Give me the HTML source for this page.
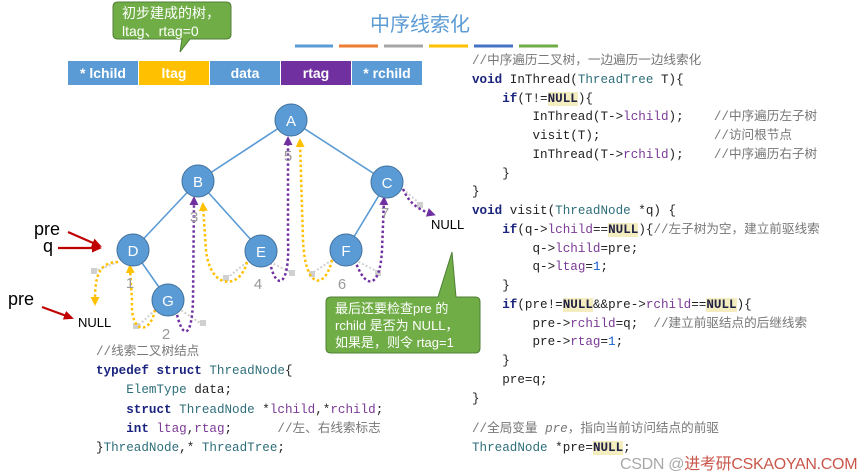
<!DOCTYPE html>
<html><head><meta charset="utf-8"><style>
*{margin:0;padding:0}
body{width:866px;height:474px;background:#fff;position:relative;overflow:hidden;font-family:"Liberation Sans","Noto Sans CJK SC",sans-serif}
.c{position:absolute;font-family:"Liberation Mono","Noto Sans CJK SC",monospace;font-size:12.6px;color:#222;white-space:pre;line-height:18px}
.k{color:#1a237e;font-weight:bold}
.t{color:#2e6e7a}
.p{color:#7b3a96}
.g{color:#777}
.n{color:#1a5fd0}
.h{background:#f3edc0;color:#224;font-weight:bold}
.cell{position:absolute;top:61px;height:24px;width:70px;color:#fff;font-weight:bold;font-size:14px;text-align:center;line-height:24px}
</style></head><body>
<svg width="866" height="474" style="position:absolute;left:0;top:0">
<defs>
<marker id="ay" markerUnits="userSpaceOnUse" markerWidth="9" markerHeight="9" refX="5" refY="4.5" orient="auto"><path d="M0,0 L9,4.5 L0,9z" fill="#ffc000"/></marker>
<marker id="ap" markerUnits="userSpaceOnUse" markerWidth="9" markerHeight="9" refX="5" refY="4.5" orient="auto"><path d="M0,0 L9,4.5 L0,9z" fill="#7030a0"/></marker>
<marker id="ar" markerUnits="userSpaceOnUse" markerWidth="10" markerHeight="9" refX="8" refY="4.5" orient="auto"><path d="M0,0 L10,4.5 L0,9z" fill="#c00000"/></marker>
</defs>
<g fill="none" stroke-width="3">
<line x1="295" y1="46" x2="333" y2="46" stroke="#5b9bd5"/>
<line x1="339" y1="46" x2="378" y2="46" stroke="#ed7d31"/>
<line x1="384" y1="46" x2="423" y2="46" stroke="#a5a5a5"/>
<line x1="429" y1="46" x2="468" y2="46" stroke="#ffc000"/>
<line x1="474" y1="46" x2="513" y2="46" stroke="#4472c4"/>
<line x1="519" y1="46" x2="558" y2="46" stroke="#70ad47"/>
</g>
<path d="M118,2 H226 Q231,2 231,7 V34 Q231,39 226,39 H190 L180,52 L182,39 H118 Q113,39 113,34 V7 Q113,2 118,2z" fill="#70ad47" stroke="#4f7f34"/>
<path d="M331,297 H438 L452,252 L456,297 H475 Q480,297 480,302 V348 Q480,353 475,353 H331 Q326,353 326,348 V302 Q326,297 331,297z" fill="#70ad47" stroke="#4f7f34"/>
<g stroke="#5b9bd5" stroke-width="1.6">
<line x1="291" y1="120" x2="198" y2="181"/><line x1="291" y1="120" x2="387" y2="182"/>
<line x1="198" y1="181" x2="133" y2="250"/><line x1="198" y1="181" x2="261" y2="251"/>
<line x1="387" y1="182" x2="346" y2="250"/><line x1="133" y1="250" x2="168" y2="300"/>
</g>
<g stroke="#d0d0d0" stroke-width="2" stroke-dasharray="2,2" fill="none">
<path d="M118,262 L95,271"/><path d="M155,310 L136,328"/><path d="M178,308 L203,325"/>
<path d="M247,262 L226,279"/><path d="M270,262 L292,273"/><path d="M332,260 L311,274"/><path d="M355,260 L378,272"/><path d="M403,189 L420,204"/>
</g>
<g fill="#d0d0d0"><rect x="91" y="268" width="6" height="6"/><rect x="133" y="323" width="6" height="6"/><rect x="200" y="320" width="6" height="6"/><rect x="223" y="275" width="6" height="6"/><rect x="289" y="270" width="6" height="6"/><rect x="309" y="271" width="6" height="6"/><rect x="375" y="270" width="6" height="6"/><rect x="417" y="202" width="6" height="6"/></g>
<g fill="none" stroke-width="2.5" stroke-dasharray="2.5,2.5">
<path d="M118,262 C95,262 95,285 95,302" stroke="#ffc000" marker-end="url(#ay)"/>
<path d="M155,310 C150,335 130,335 132,300 L130,268" stroke="#ffc000" marker-end="url(#ay)"/>
<path d="M176,310 C182,340 192,340 193,300 L194,200" stroke="#7030a0" marker-end="url(#ap)"/>
<path d="M247,262 C240,290 210,290 206,250 L203,206" stroke="#ffc000" marker-end="url(#ay)"/>
<path d="M270,262 C275,290 290,290 288,240 L288,140" stroke="#7030a0" marker-end="url(#ap)"/>
<path d="M332,260 C325,290 305,290 303,240 L300,142" stroke="#ffc000" marker-end="url(#ay)"/>
<path d="M355,260 C365,290 380,290 382,250 L384,200" stroke="#7030a0" marker-end="url(#ap)"/>
<path d="M403,189 C410,205 420,210 432,214" stroke="#7030a0" marker-end="url(#ap)"/>
</g>
<g stroke="#c00000" stroke-width="2.2" fill="none">
<line x1="68" y1="232" x2="100" y2="246" marker-end="url(#ar)"/>
<line x1="58" y1="248" x2="100" y2="248" marker-end="url(#ar)"/>
<line x1="42" y1="307" x2="72" y2="318" marker-end="url(#ar)"/>
</g>
<g fill="#5b9bd5" stroke="#41719c" stroke-width="1">
<circle cx="291" cy="120" r="16"/><circle cx="198" cy="181" r="16"/><circle cx="387" cy="182" r="16"/>
<circle cx="133" cy="250" r="16"/><circle cx="261" cy="251" r="16"/><circle cx="346" cy="250" r="16"/><circle cx="168" cy="300" r="16"/>
</g>
<g fill="#fff" font-size="15" text-anchor="middle" font-family="Liberation Sans">
<text x="291" y="126">A</text><text x="198" y="187">B</text><text x="387" y="188">C</text><text x="133" y="256">D</text><text x="261" y="257">E</text><text x="346" y="256">F</text><text x="168" y="306">G</text>
</g>
<g fill="#999" font-size="15" text-anchor="middle" font-family="Liberation Sans">
<text x="130" y="288">1</text><text x="166" y="339">2</text><text x="194" y="222">3</text><text x="258" y="289">4</text><text x="288" y="161">5</text><text x="342" y="289">6</text><text x="385" y="218">7</text>
</g>
<g font-family="Liberation Sans" fill="#000">
<text x="34" y="235" font-size="18">pre</text><text x="43" y="252" font-size="18">q</text>
<text x="8" y="305" font-size="18">pre</text>
<text x="78" y="327" font-size="13">NULL</text><text x="431" y="229" font-size="13">NULL</text>
</g>
</svg>
<div style="position:absolute;left:122px;top:4px;color:#fff;font-size:14px;line-height:18px">初步建成的树，<br>ltag、rtag=0</div>
<div style="position:absolute;left:335px;top:300px;color:#fff;font-size:13px;line-height:17px">最后还要检查pre 的<br>rchild 是否为 NULL，<br>如果是，则令 rtag=1</div>
<div style="position:absolute;left:370px;top:8px;color:#5b9bd5;font-size:20px;font-family:'Noto Sans CJK SC',sans-serif">中序线索化</div>
<div class="cell" style="left:68px;background:#5b9bd5">* lchild</div>
<div class="cell" style="left:139px;background:#ffc000">ltag</div>
<div class="cell" style="left:210px;background:#5b9bd5">data</div>
<div class="cell" style="left:281px;background:#7030a0">rtag</div>
<div class="cell" style="left:352px;background:#5b9bd5">* rchild</div>

<div class="c" style="left:472px;top:52px;line-height:18.75px"><span class="g">//中序遍历二叉树，一边遍历一边线索化</span>
<span class="k">void</span> InThread(<span class="t">ThreadTree</span> T){
    <span class="k">if</span>(T!=<span class="h">NULL</span>){
        InThread(T-&gt;<span class="p">lchild</span>);    <span class="g">//中序遍历左子树</span>
        visit(T);               <span class="g">//访问根节点</span>
        InThread(T-&gt;<span class="p">rchild</span>);    <span class="g">//中序遍历右子树</span>
    }
}
<span class="k">void</span> visit(<span class="t">ThreadNode</span> *q) {
    <span class="k">if</span>(q-&gt;<span class="p">lchild</span>==<span class="h">NULL</span>){<span class="g">//左子树为空，建立前驱线索</span>
        q-&gt;<span class="p">lchild</span>=pre;
        q-&gt;<span class="p">ltag</span>=<span class="n">1</span>;
    }
    <span class="k">if</span>(pre!=<span class="h">NULL</span>&amp;&amp;pre-&gt;<span class="p">rchild</span>==<span class="h">NULL</span>){
        pre-&gt;<span class="p">rchild</span>=q;  <span class="g">//建立前驱结点的后继线索</span>
        pre-&gt;<span class="p">rtag</span>=<span class="n">1</span>;
    }
    pre=q;
}</div>
<div class="c" style="left:472px;top:420px;line-height:19px"><span class="g">//全局变量 <i>pre</i>，指向当前访问结点的前驱</span>
<span class="t">ThreadNode</span> *pre=<span class="h">NULL</span>;</div>

<div class="c" style="left:96px;top:343px;line-height:19.2px"><span class="g">//线索二叉树结点</span>
<span class="k">typedef struct</span> <span class="t">ThreadNode</span>{
    <span class="t">ElemType</span> data;
    <span class="k">struct</span> <span class="t">ThreadNode</span> *<span class="p">lchild</span>,*<span class="p">rchild</span>;
    <span class="k">int</span> <span class="p">ltag</span>,<span class="p">rtag</span>;      <span class="g">//左、右线索标志</span>
}<span class="t">ThreadNode</span>,* <span class="t">ThreadTree</span>;</div>
<div style="position:absolute;left:620px;top:450px;color:#999;font-size:16px;letter-spacing:-0.3px;white-space:nowrap;opacity:.85">CSDN @<span style="color:#c0392b">进考研CSKAOYAN.COM</span></div>
</body></html>
